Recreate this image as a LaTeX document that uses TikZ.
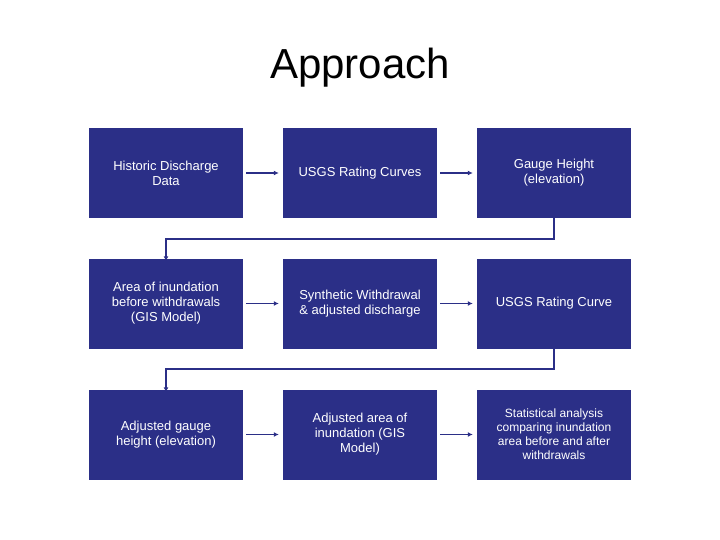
\documentclass[tikz,border=0pt]{standalone}
\usepackage{fontspec}
\setmainfont{Liberation Sans}
\usetikzlibrary{arrows.meta}
\definecolor{boxblue}{HTML}{2B2F87}
\begin{document}
\begin{tikzpicture}[x=1pt,y=-1pt,
  bx/.style={fill=boxblue,draw=none,minimum width=154pt,minimum height=90pt,text=white,align=center,font=\fontsize{13}{15}\selectfont,inner sep=2pt},
  conn/.style={draw=boxblue,line width=1.5pt,-{Latex[length=5pt,width=5pt]}}]
\useasboundingbox (0,0) rectangle (720,540);
\node (title) at (360,68) {\fontsize{42}{46}\selectfont Approach};
\node[bx] (a1) at (166,173) {Historic Discharge\\Data};
\node[bx] (a2) at (360,173) {USGS Rating Curves};
\node[bx] (a3) at (554,173) {Gauge Height\\(elevation)};
\node[bx] (b1) at (166,303.5) {Area of inundation\\before withdrawals\\(GIS Model)};
\node[bx] (b2) at (360,303.5) {Synthetic Withdrawal\\\& adjusted discharge};
\node[bx] (b3) at (554,303.5) {USGS Rating Curve};
\node[bx] (c1) at (166,434.5) {Adjusted gauge\\height (elevation)};
\node[bx] (c2) at (360,434.5) {Adjusted area of\\inundation (GIS\\Model)};
\node[bx,font=\fontsize{12}{14}\selectfont] (c3) at (554,434.5) {Statistical analysis\\comparing inundation\\area before and after\\withdrawals};
\draw[conn] ([xshift=3pt]a1.east) -- ([xshift=-4pt]a2.east -| a2.west);
\draw[conn] ([xshift=3pt]a2.east) -- ([xshift=-4pt]a3.east -| a3.west);
\draw[conn] ([xshift=3pt]b1.east) -- ([xshift=-4pt]b2.east -| b2.west);
\draw[conn] ([xshift=3pt]b2.east) -- ([xshift=-4pt]b3.east -| b3.west);
\draw[conn] ([xshift=3pt]c1.east) -- ([xshift=-4pt]c2.east -| c2.west);
\draw[conn] ([xshift=3pt]c2.east) -- ([xshift=-4pt]c3.east -| c3.west);
\coordinate (e1) at (554,239);
\coordinate (e2) at (554,369);
\draw[conn] ([yshift=4pt]a3.south) -- (e1) -- (e1 -| b1) -- ([yshift=-3pt]b1.north);
\draw[conn] ([yshift=4pt]b3.south) -- (e2) -- (e2 -| c1) -- ([yshift=-3pt]c1.north);
\end{tikzpicture}
\end{document}
